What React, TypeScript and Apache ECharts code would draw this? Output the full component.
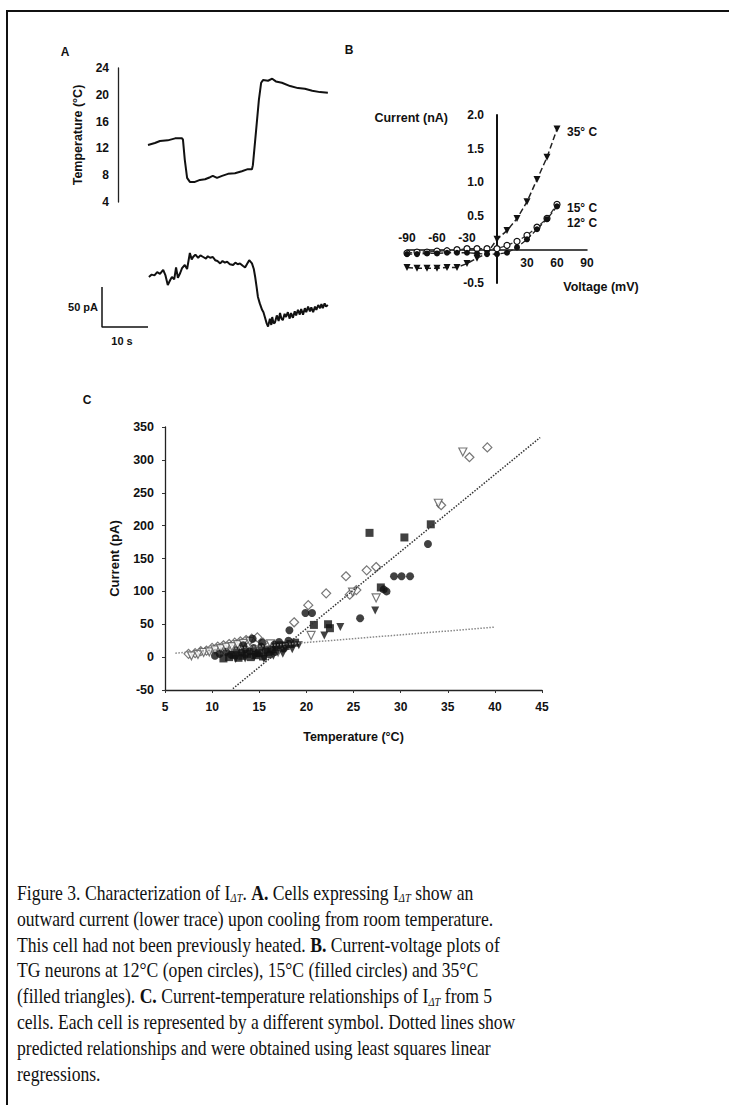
import React, { useEffect, useRef } from "react";
import * as echarts from "echarts";

const FONT = "'Liberation Sans', Arial, sans-serif";
const SERIF = "'Liberation Serif', 'Times New Roman', serif";

// ---------- Panel A: temperature trace (time s, °C) ----------
const tempTime = [0, 1.5, 2.6, 4.3, 5.9, 7.4, 7.6, 8.0, 8.5, 9.1, 10.2, 11.3, 12.4, 13.5, 14.1, 15.0, 16.1, 17.4, 18.9, 20.4, 21.7, 22.6, 22.8, 23.5, 24.1, 24.6, 25.0, 26.1, 27.0, 27.8, 29.1, 30.9, 32.6, 34.1, 35.7, 37.4, 39.1];
const tempValues = [12.5, 12.8, 13.1, 13.2, 13.5, 13.5, 13.3, 10.3, 7.6, 7.0, 7.0, 7.3, 7.4, 7.7, 7.9, 7.6, 7.9, 8.2, 8.3, 8.6, 8.9, 8.9, 9.5, 14.7, 19.2, 21.8, 22.2, 22.1, 22.4, 22.0, 21.8, 21.3, 21.0, 20.9, 20.6, 20.4, 20.3];
const tempTicks = { min: 4, max: 24, step: 4 };

// ---------- Panel A: current trace (time s, pA relative) ----------
const currTime = [0.2, 0.8, 1.4, 2.0, 2.6, 3.3, 3.8, 4.3, 4.8, 5.2, 5.7, 6.1, 6.5, 7.0, 7.4, 8.0, 8.5, 9.1, 9.5, 9.8, 10.3, 10.9, 11.4, 12.0, 12.6, 13.0, 13.5, 14.1, 14.6, 15.1, 15.7, 16.2, 16.7, 17.2, 17.8, 18.5, 19.0, 19.5, 20.0, 20.6, 21.1, 21.5, 22.0, 22.6, 23.0, 23.3, 23.6, 23.9, 24.3, 24.8, 25.1, 25.4, 25.8, 26.1, 26.5, 26.8, 27.0, 27.3, 27.6, 28.0, 28.4, 28.7, 29.0, 29.3, 29.7, 30.0, 30.4, 30.8, 31.1, 31.5, 31.9, 32.2, 32.6, 33.0, 33.3, 33.7, 34.1, 34.4, 34.8, 35.2, 35.5, 35.9, 36.3, 36.6, 37.0, 37.4, 37.7, 38.0, 38.4, 38.7, 39.1];
const currValues = [0, 3, 2, 6, 4, 9, 2, -10, -4, 0, -3, 12, -1, 5, 11, 15, 10, 30, 22, 25, 28, 24, 27, 25, 23, 26, 24, 25, 21, 20, 17, 20, 18, 19, 16, 15, 18, 16, 17, 14, 12, 16, 21, 17, 10, 0, -12, -25, -33, -41, -44, -50, -58, -62, -52, -60, -50, -58, -57, -48, -55, -45, -52, -54, -46, -50, -44, -52, -45, -51, -43, -48, -41, -47, -40, -47, -39, -44, -37, -43, -38, -44, -37, -41, -35, -39, -34, -39, -33, -37, -35];
// scale bar: 50 pA vertical, 10 s horizontal
const scaleBarTime = [-10, -10, 0];
const scaleBarCurrent = [-12.5, -62.5, -62.5];

// ---------- Panel B: I-V curves ----------
const ivVoltages = [-90, -80, -70, -60, -50, -40, -30, -20, -10, 0, 10, 20, 30, 40, 50, 60];
const iv35 = [-0.27, -0.28, -0.28, -0.28, -0.27, -0.27, -0.21, -0.13, -0.06, 0.15, 0.28, 0.46, 0.71, 1.04, 1.37, 1.79];
const iv15 = [-0.07, -0.07, -0.06, -0.06, -0.05, -0.05, -0.05, -0.06, -0.07, -0.07, -0.05, 0.03, 0.15, 0.3, 0.45, 0.64];
const iv12 = [-0.055, -0.04, -0.04, -0.025, -0.02, -0.005, 0.01, 0.01, 0.01, 0.01, 0.06, 0.12, 0.21, 0.33, 0.46, 0.67];
const ivXTicks = { min: -90, max: 90, step: 30 };
const ivYTicks = { min: -0.5, max: 2.0, step: 0.5 };

// ---------- Panel C: current vs temperature, 5 cells ----------
const cCircles = [[10.3, 2], [10.8, 5], [11.5, 8], [12.0, 4], [12.6, 10], [13.1, 7], [13.5, 12], [14.0, 9], [14.4, 14], [14.8, 6], [15.2, 16], [15.7, 11], [16.1, 4], [16.6, 19], [17.1, 23], [17.6, 13], [18.1, 25], [14.3, 28], [15.3, 22], [13.3, 18], [16.7, 8], [18.2, 41], [19.9, 67], [20.6, 67], [25.7, 59], [28.2, 103], [28.5, 100], [29.3, 123], [30.1, 123], [31.0, 123], [32.9, 172]];
const cSquares = [[11.2, -2], [11.8, 0], [12.3, 3], [12.8, -1], [13.2, 2], [13.7, 5], [14.1, 0], [14.6, 3], [15.0, 6], [15.4, 1], [15.9, 8], [16.3, 12], [16.8, 15], [17.3, 18], [17.8, 17], [18.3, 20], [18.8, 22], [20.8, 49], [22.3, 50], [22.5, 44], [26.7, 189], [27.9, 106], [30.4, 182], [33.2, 202]];
const cTriFilled = [[12.5, -3], [13.5, -2], [14.5, 1], [15.5, -3], [16.5, 2], [17.5, 5], [18.5, 12], [19.2, 18], [21.9, 33], [23.6, 46], [27.3, 71]];
const cDiamonds = [[7.5, 5], [8.2, 6], [8.8, 9], [9.4, 10], [10.0, 14], [10.6, 16], [11.2, 18], [11.8, 20], [12.4, 22], [13.0, 24], [13.6, 26], [14.2, 28], [14.8, 30], [15.4, 22], [17.5, 15], [18.7, 53], [20.2, 79], [22.1, 97], [24.2, 123], [24.6, 95], [25.3, 102], [26.4, 132], [27.4, 137], [34.3, 231], [37.3, 304], [39.2, 319]];
const cTriOpen = [[7.8, 2], [8.5, 4], [9.1, 7], [9.7, 8], [10.3, 11], [10.9, 13], [11.5, 15], [12.1, 16], [12.7, 19], [13.3, 21], [14.0, 24], [16.2, 20], [17.0, 8], [20.5, 33], [24.9, 99], [27.4, 90], [34.0, 234], [36.6, 312]];
// least-squares regression lines (endpoints)
const fitSteep = [[12.2, -48], [44.8, 334]];
const fitFlat = [[6.1, 6], [40.0, 45.6]];
const cXTicks = { min: 5, max: 45, step: 5 };
const cYTicks = { min: -50, max: 350, step: 50 };

// ---------- Caption ----------
const captionLines = [
  "Figure 3. Characterization of I{sub|ΔT}. {b|A.} Cells expressing I{sub|ΔT} show an",
  "outward current (lower trace) upon cooling from room temperature.",
  "This cell had not been previously heated. {b|B.} Current-voltage plots of",
  "TG neurons at 12°C (open circles), 15°C (filled circles) and 35°C",
  "(filled triangles). {b|C.} Current-temperature relationships of I{sub|ΔT} from 5",
  "cells. Each cell is represented by a different symbol. Dotted lines show",
  "predicted relationships and were obtained using least squares linear",
  "regressions.",
];

const zip = (xs: number[], ys: number[]) => xs.map((x, i) => [x, ys[i]]);

const lbl = (size = 12) => ({ fontFamily: FONT, fontWeight: "bold" as const, fontSize: size, color: "#111" });

export default function App() {
  const ref = useRef<HTMLDivElement>(null);
  useEffect(() => {
    document.documentElement.style.overflow = "hidden";
    const chart = echarts.init(ref.current!, null, { renderer: "svg" });
    const axisLineStyle = { color: "#222", width: 1.3 };
    const option: any = {
      animation: false,
      backgroundColor: "#fff",
      textStyle: { fontFamily: FONT },
      grid: [
        { left: 148, top: 68, width: 184, height: 134 },
        { left: 102, top: 245, width: 230, height: 88 },
        { left: 407, top: 115, width: 180, height: 168 },
        { left: 165, top: 427, width: 377, height: 263 },
      ],
      xAxis: [
        { gridIndex: 0, type: "value", min: 0, max: 40, show: false },
        { gridIndex: 1, type: "value", min: -10, max: 40, show: false },
        {
          gridIndex: 2, type: "value", min: ivXTicks.min, max: ivXTicks.max, interval: ivXTicks.step,
          axisLine: { onZero: true, lineStyle: { color: "#111", width: 1.5 } },
          axisTick: { show: false },
          splitLine: { show: false },
          axisLabel: { show: false },
        },
        {
          gridIndex: 2, type: "value", min: ivXTicks.min, max: ivXTicks.max, interval: ivXTicks.step,
          position: "top", offset: -134,
          axisLine: { show: false, onZero: false }, axisTick: { show: false }, splitLine: { show: false },
          axisLabel: { ...lbl(12), margin: 5, formatter: (v: number) => (v < 0 ? String(v) : "") },
        },
        {
          gridIndex: 3, type: "value", min: cXTicks.min, max: cXTicks.max, interval: cXTicks.step,
          axisLine: { onZero: false, lineStyle: axisLineStyle },
          axisTick: { show: true, length: 3, lineStyle: { color: "#333" } },
          splitLine: { show: false },
          axisLabel: { ...lbl(12), margin: 11 },
          name: "Temperature (°C)", nameLocation: "middle", nameGap: 40,
          nameTextStyle: lbl(12.5),
        },
        {
          gridIndex: 2, type: "value", min: ivXTicks.min, max: ivXTicks.max, interval: ivXTicks.step,
          position: "bottom", offset: -34,
          axisLine: { show: false, onZero: false }, axisTick: { show: false }, splitLine: { show: false },
          axisLabel: { ...lbl(12), margin: 8, formatter: (v: number) => (v > 0 ? String(v) : "") },
        },
      ],
      yAxis: [
        {
          gridIndex: 0, type: "value", min: tempTicks.min, max: tempTicks.max, interval: tempTicks.step,
          offset: 30,
          axisLine: { show: true, onZero: false, lineStyle: axisLineStyle },
          axisTick: { show: false }, splitLine: { show: false },
          axisLabel: { ...lbl(12), margin: 9 },
          name: "Temperature (°C)", nameLocation: "middle", nameGap: 34,
          nameTextStyle: lbl(12.5),
        },
        { gridIndex: 1, type: "value", min: -70, max: 40, show: false },
        {
          gridIndex: 2, type: "value", min: ivYTicks.min, max: ivYTicks.max, interval: ivYTicks.step,
          axisLine: { show: true, onZero: true, lineStyle: { color: "#111", width: 2 } },
          axisTick: { show: false },
          splitLine: { show: false },
          axisLabel: { show: false },
        },
        {
          gridIndex: 3, type: "value", min: cYTicks.min, max: cYTicks.max, interval: cYTicks.step,
          axisLine: { show: true, onZero: false, lineStyle: axisLineStyle },
          axisTick: { show: true, length: 3, lineStyle: { color: "#333" } },
          splitLine: { show: false },
          axisLabel: { ...lbl(12.5), margin: 11 },
          name: "Current (pA)", nameLocation: "middle", nameGap: 44,
          nameTextStyle: lbl(13),
        },
        {
          gridIndex: 2, type: "value", min: ivYTicks.min, max: ivYTicks.max, interval: ivYTicks.step,
          position: "left", offset: -90,
          axisLine: { show: false, onZero: false }, axisTick: { show: false }, splitLine: { show: false },
          axisLabel: { ...lbl(12), margin: 13, formatter: (v: number) => (v === 0 ? "" : v.toFixed(1)) },
        },
      ],
      series: [
        // Panel A
        {
          type: "line", xAxisIndex: 0, yAxisIndex: 0, data: zip(tempTime, tempValues),
          symbol: "none", lineStyle: { color: "#111", width: 2 },
        },
        {
          type: "line", xAxisIndex: 1, yAxisIndex: 1, data: zip(currTime, currValues),
          symbol: "none", lineStyle: { color: "#111", width: 2 },
        },
        {
          type: "line", xAxisIndex: 1, yAxisIndex: 1, data: zip(scaleBarTime, scaleBarCurrent),
          symbol: "none", lineStyle: { color: "#111", width: 1.5 },
        },
        // Panel B
        {
          name: "12° C", type: "line", xAxisIndex: 2, yAxisIndex: 2, data: zip(ivVoltages, iv12),
          symbol: "circle", symbolSize: 6,
          itemStyle: { color: "#fff", borderColor: "#111", borderWidth: 1.2 },
          lineStyle: { color: "#333", width: 1.3, type: "dashed" },
          endLabel: { show: true, formatter: "12° C", ...lbl(12), distance: 10, offset: [0, 19] },
        },
        {
          name: "15° C", type: "line", xAxisIndex: 2, yAxisIndex: 2, data: zip(ivVoltages, iv15),
          symbol: "circle", symbolSize: 6,
          itemStyle: { color: "#111" },
          lineStyle: { color: "#222", width: 1.3, type: "dashed" },
          endLabel: { show: true, formatter: "15° C", ...lbl(12), distance: 10, offset: [0, 2] },
        },
        {
          name: "35° C", type: "line", xAxisIndex: 2, yAxisIndex: 2, data: zip(ivVoltages, iv35),
          symbol: "triangle", symbolRotate: 180, symbolSize: 7,
          itemStyle: { color: "#111" },
          lineStyle: { color: "#222", width: 1.5, type: "dashed" },
          endLabel: { show: true, formatter: "35° C", ...lbl(12), distance: 10, offset: [0, 3] },
        },
        // Panel C
        {
          type: "line", xAxisIndex: 4, yAxisIndex: 3, data: fitFlat, symbol: "none",
          lineStyle: { color: "#888", width: 1.5, type: "dotted" },
        },
        {
          type: "line", xAxisIndex: 4, yAxisIndex: 3, data: fitSteep, symbol: "none",
          lineStyle: { color: "#333", width: 1.5, type: "dotted" },
        },
        {
          type: "scatter", xAxisIndex: 4, yAxisIndex: 3, data: cDiamonds, symbol: "diamond", symbolSize: 9,
          itemStyle: { color: "#fff", borderColor: "#555", borderWidth: 1.2 },
        },
        {
          type: "scatter", xAxisIndex: 4, yAxisIndex: 3, data: cTriOpen, symbol: "triangle", symbolRotate: 180, symbolSize: 8,
          itemStyle: { color: "#fff", borderColor: "#555", borderWidth: 1.2 },
        },
        {
          type: "scatter", xAxisIndex: 4, yAxisIndex: 3, data: cCircles, symbol: "circle", symbolSize: 8,
          itemStyle: { color: "#111" },
        },
        {
          type: "scatter", xAxisIndex: 4, yAxisIndex: 3, data: cSquares, symbol: "rect", symbolSize: 8,
          itemStyle: { color: "#111" },
        },
        {
          type: "scatter", xAxisIndex: 4, yAxisIndex: 3, data: cTriFilled, symbol: "triangle", symbolRotate: 180, symbolSize: 8,
          itemStyle: { color: "#111" },
        },
      ],
      graphic: {
        elements: [
          { type: "polyline", shape: { points: [[7, 1105], [7, 11], [729, 11]] }, style: { stroke: "#111", lineWidth: 2, fill: null } },
          { type: "text", x: 65, y: 52, style: { text: "A", font: `bold 12px ${FONT}`, fill: "#111", align: "center", verticalAlign: "middle" } },
          { type: "text", x: 349, y: 50, style: { text: "B", font: `bold 12px ${FONT}`, fill: "#111", align: "center", verticalAlign: "middle" } },
          { type: "text", x: 87, y: 400, style: { text: "C", font: `bold 12px ${FONT}`, fill: "#111", align: "center", verticalAlign: "middle" } },
          { type: "text", x: 98, y: 307, style: { text: "50 pA", font: `bold 11px ${FONT}`, fill: "#111", align: "right", verticalAlign: "middle" } },
          { type: "text", x: 122, y: 341, style: { text: "10 s", font: `bold 11px ${FONT}`, fill: "#111", align: "center", verticalAlign: "middle" } },
          { type: "text", x: 448, y: 118, style: { text: "Current (nA)", font: `bold 12.5px ${FONT}`, fill: "#111", align: "right", verticalAlign: "middle" } },
          { type: "text", x: 601, y: 287, style: { text: "Voltage (mV)", font: `bold 12.5px ${FONT}`, fill: "#111", align: "center", verticalAlign: "middle" } },
          ...captionLines.map((line, i) => ({
            type: "text", x: 17, y: 879 + i * 25.9, scaleX: 0.8,
            style: {
              text: line, fontFamily: SERIF, fontSize: 22, fill: "#111", verticalAlign: "top", lineHeight: 26,
              rich: {
                b: { fontFamily: SERIF, fontSize: 22, fontWeight: "bold", lineHeight: 26 },
                sub: { fontFamily: SERIF, fontSize: 13, fontStyle: "italic", verticalAlign: "bottom", lineHeight: 13 },
              },
            },
          })),
        ],
      },
    };
    chart.setOption(option);
    return () => chart.dispose();
  }, []);
  return (
    <div
      ref={ref}
      style={{ position: "absolute", left: 0, top: 0, width: 729, height: 1105, background: "#fff" }}
    />
  );
}
